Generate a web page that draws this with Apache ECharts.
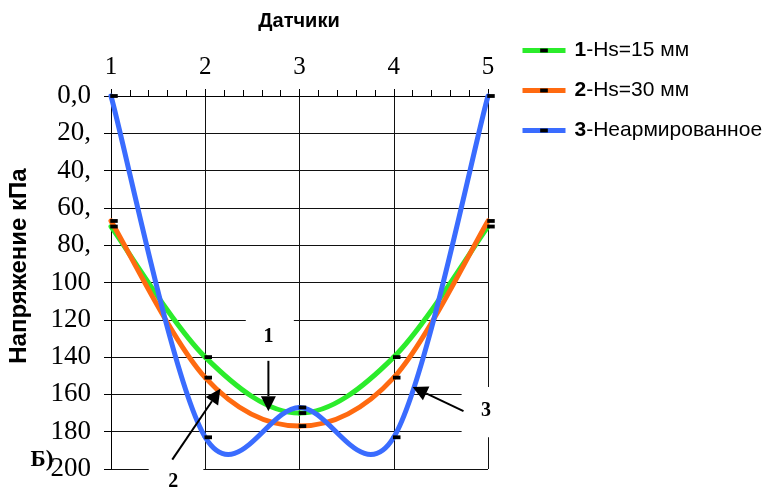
<!DOCTYPE html>
<html>
<head>
<meta charset="utf-8">
<script src="https://cdn.jsdelivr.net/npm/echarts@6/dist/echarts.min.js"></script>
<style>
html,body{margin:0;padding:0;background:#fff;}
#chart{width:764px;height:490px;}
</style>
</head>
<body>
<div id="chart"></div>
<script>
// ---- data ----
var sensors = [1, 2, 3, 4, 5];
var seriesNames = ['1-Hs=15 мм', '2-Hs=30 мм', '3-Неармированное'];
var hs15 = [70, 140, 170, 140, 70];
var hs30 = [67, 151, 177, 151, 67];
var unreinforced = [0, 183, 167, 183, 0];
var yTickLabels = ['0,0', '20,', '40,', '60,', '80,', '100', '120', '140', '160', '180', '200'];
var colors = ['#2bec2b', '#ff6a10', '#3a6cff'];

function pairs(vals) {
  return sensors.map(function (s, i) { return [s, vals[i]]; });
}

var chart = echarts.init(document.getElementById('chart'));
var serif = 'Liberation Serif';
var sans = 'Liberation Sans';
// small black dash marker (bounding box padded so it keeps its shape in the legend too)
var dash = 'path://M0,0M1.75,3.6H9.25V7.4H1.75ZM11,11';

// markers + legend entries
function markerSeries(name, vals) {
  return {
    name: name,
    type: 'line',
    data: pairs(vals),
    symbol: dash,
    symbolSize: 11,
    symbolOffset: [3, 0],
    showSymbol: true,
    itemStyle: { color: '#000' },
    lineStyle: { opacity: 0, width: 0 },
    emphasis: { disabled: true },
    silent: true,
    z: 5
  };
}

// Excel-like smoothed curve (Catmull-Rom style Bezier) through the data points, via the axis scales
function curveSeries(vals, color) {
  return {
    type: 'custom',
    name: '_curve',
    coordinateSystem: 'cartesian2d',
    data: [[sensors[0], vals[0]]],
    silent: true,
    z: 3,
    renderItem: function (params, api) {
      var pts = sensors.map(function (s, i) { return api.coord([s, vals[i]]); });
      var n = pts.length, children = [];
      for (var i = 0; i < n - 1; i++) {
        var p0 = pts[Math.max(i - 1, 0)], p1 = pts[i], p2 = pts[i + 1], p3 = pts[Math.min(i + 2, n - 1)];
        children.push({
          type: 'bezierCurve',
          shape: {
            x1: p1[0], y1: p1[1],
            cpx1: p1[0] + (p2[0] - p0[0]) / 6, cpy1: p1[1] + (p2[1] - p0[1]) / 6,
            cpx2: p2[0] - (p3[0] - p1[0]) / 6, cpy2: p2[1] - (p3[1] - p1[1]) / 6,
            x2: p2[0], y2: p2[1]
          },
          style: { stroke: color, lineWidth: 5, fill: null, lineCap: 'round' }
        });
      }
      return { type: 'group', children: children };
    }
  };
}

var option = {
  animation: false,
  backgroundColor: '#fff',
  grid: { left: 111, right: 276, top: 96, bottom: 21 },
  legend: {
    orient: 'vertical',
    left: 520,
    top: 40,
    padding: 0,
    itemWidth: 43,
    itemHeight: 14,
    itemGap: 19,
    data: seriesNames.map(function (n, i) {
      return { name: n, lineStyle: { color: colors[i], width: 5, opacity: 1 } };
    }),
    formatter: function (n) {
      var k = n.indexOf('-');
      return '{b|' + n.slice(0, k) + '}{n|' + n.slice(k) + '}';
    },
    textStyle: {
      padding: [0, 0, 0, 4],
      rich: {
        b: { fontFamily: sans, fontWeight: 'bold', fontSize: 21, lineHeight: 14, color: '#000' },
        n: { fontFamily: sans, fontSize: 21, lineHeight: 14, color: '#000' }
      }
    }
  },
  xAxis: {
    type: 'value',
    position: 'top',
    min: 1, max: 5, interval: 1,
    axisLine: { show: true, lineStyle: { color: '#000', width: 1 } },
    axisTick: { show: true, inside: false, length: 7, lineStyle: { color: '#000' } },
    minorTick: { show: true, splitNumber: 5, length: 6, lineStyle: { color: '#000' } },
    splitLine: { show: true, lineStyle: { color: '#111', width: 1 } },
    axisLabel: { fontFamily: serif, fontSize: 25, color: '#000', margin: 16 }
  },
  yAxis: {
    type: 'value',
    inverse: true,
    min: 0, max: 200, interval: 20,
    axisLine: { show: true, lineStyle: { color: '#000', width: 1 } },
    axisTick: { show: true, inside: false, length: 7, lineStyle: { color: '#000' } },
    splitLine: { show: true, lineStyle: { color: '#111', width: 1 } },
    axisLabel: {
      fontFamily: serif, fontSize: 27, color: '#000', margin: 20,
      padding: [14, 0, 0, 0],
      formatter: function (v) { return yTickLabels[Math.round(v / 20)]; }
    }
  },
  series: [
    curveSeries(hs15, colors[0]),
    curveSeries(hs30, colors[1]),
    curveSeries(unreinforced, colors[2]),
    markerSeries(seriesNames[0], hs15),
    markerSeries(seriesNames[1], hs30),
    markerSeries(seriesNames[2], unreinforced)
  ]
};
chart.setOption(option);

// ---- annotations (positioned in data coordinates) ----
function px(x, y) { return chart.convertToPixel({ gridIndex: 0 }, [x, y]); }
var annotations = [
  { label: '1', text: [2.67, 129], from: [2.67, 142], to: [2.67, 169], box: [[2.43, 116], [2.94, 136]] },
  { label: '2', text: [1.66, 207], from: [1.65, 195], to: [2.16, 157], box: [[1.4, 195], [1.98, 215]] },
  { label: '3', text: [4.98, 169], from: [4.74, 169], to: [4.2, 156], box: [[4.72, 156], [5.08, 183]] }
];
var g = [];
annotations.forEach(function (a) {
  var b0 = px(a.box[0][0], a.box[0][1]), b1 = px(a.box[1][0], a.box[1][1]);
  g.push({ type: 'rect', shape: { x: b0[0], y: b0[1], width: b1[0] - b0[0], height: b1[1] - b0[1] },
           style: { fill: '#fff' }, z: 50, silent: true });
  var p0 = px(a.from[0], a.from[1]), p1 = px(a.to[0], a.to[1]);
  var dx = p1[0] - p0[0], dy = p1[1] - p0[1], L = Math.sqrt(dx * dx + dy * dy);
  var ux = dx / L, uy = dy / L, hl = 15, hw = 7.5;
  var bx = p1[0] - ux * hl, by = p1[1] - uy * hl;
  g.push({ type: 'line', shape: { x1: p0[0], y1: p0[1], x2: bx, y2: by },
           style: { stroke: '#000', lineWidth: 2 }, z: 60, silent: true });
  g.push({ type: 'polygon', shape: { points: [[p1[0], p1[1]], [bx - uy * hw, by + ux * hw], [bx + uy * hw, by - ux * hw]] },
           style: { fill: '#000' }, z: 60, silent: true });
  var t = px(a.text[0], a.text[1]);
  g.push({ type: 'text', x: t[0], y: t[1], z: 61, silent: true,
           style: { text: a.label, font: 'bold 20px "Liberation Serif"', fill: '#000', align: 'center', verticalAlign: 'middle' } });
});
g.push({ type: 'text', x: 299, y: 21, z: 61, silent: true,
         style: { text: 'Датчики', font: 'bold 20px "Liberation Sans"', fill: '#000', align: 'center', verticalAlign: 'middle' } });
g.push({ type: 'text', x: 19, y: 266, rotation: Math.PI / 2, z: 61, silent: true,
         style: { text: 'Напряжение кПа', font: 'bold 24px "Liberation Sans"', fill: '#000', align: 'center', verticalAlign: 'middle' } });
g.push({ type: 'text', x: 42, y: 460, z: 61, silent: true,
         style: { text: 'Б)', font: 'bold 23px "Liberation Serif"', fill: '#000', align: 'center', verticalAlign: 'middle' } });
chart.setOption({ graphic: g });
</script>
</body>
</html>
